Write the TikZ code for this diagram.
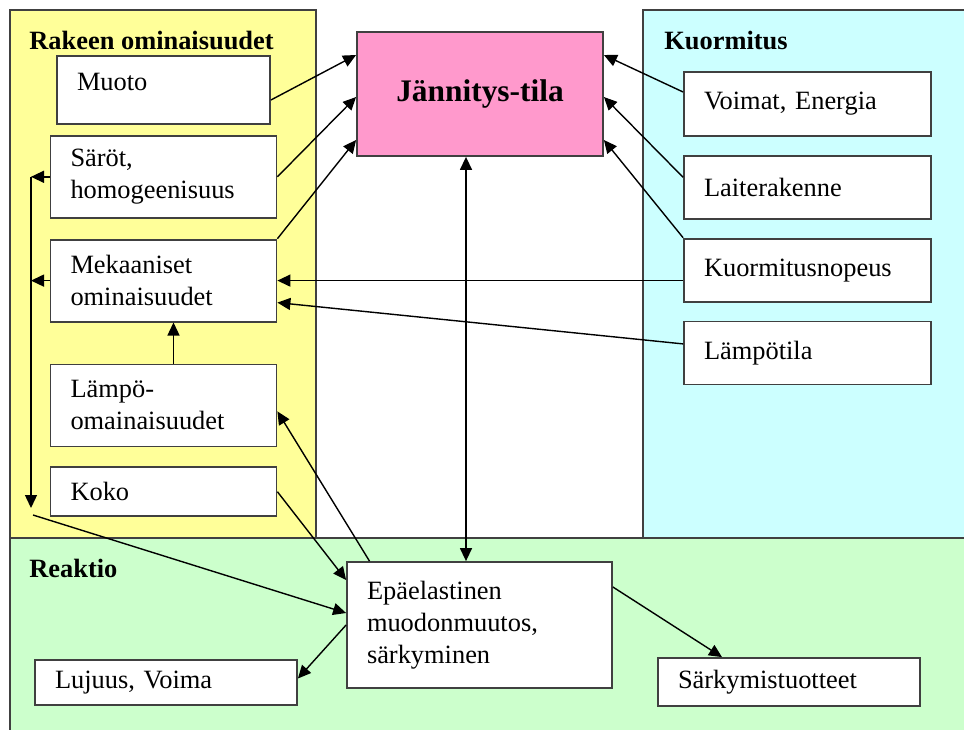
\documentclass[tikz,border=0pt]{standalone}
\usepackage{fontspec}
\setmainfont{Liberation Serif}
\usetikzlibrary{arrows.meta,positioning}

\definecolor{rakeen}{HTML}{FFFF99}
\definecolor{kuorm}{HTML}{CCFFFF}
\definecolor{reakt}{HTML}{CCFFCC}
\definecolor{jannit}{HTML}{FF99CC}

\begin{document}
\begin{tikzpicture}[x=0.5pt,y=-0.5pt,font=\fontsize{13.2}{16}\selectfont,
  panel/.style={draw=black!75,line width=0.8pt},
  box/.style={draw=black!75,line width=0.9pt,fill=white,align=left,
              inner xsep=10pt,inner ysep=2pt},
  title/.style={font=\fontsize{13.2}{16}\selectfont\bfseries,anchor=west,inner sep=0pt},
  arr/.style={line width=0.7pt,-{Triangle[length=6.5pt,width=6pt]}},
  arrb/.style={line width=0.7pt,{Triangle[length=6.5pt,width=6pt]}-{Triangle[length=6.5pt,width=6pt]}}]
\useasboundingbox (0,0) rectangle (964,729);
% taustat
\fill[white] (0,0) rectangle (964,729);
\draw[panel,fill=rakeen] (10,10) rectangle (316,538);
\draw[panel,fill=kuorm] (643,10) rectangle (980,538);
\draw[panel,fill=reakt] (10,538) rectangle (980,745);
\node[title] (trak) at (29,40) {Rakeen ominaisuudet};
\node[title] (tkuo) at (664,40) {Kuormitus};
\node[title] (trea) at (29,568) {Reaktio};

% rakeen ominaisuudet
\node[box,text width=86.5pt,minimum height=34pt] (muoto) at (163.5,90) {Muoto\\[-13pt]\strut};
\node[box,text width=93pt,minimum height=41pt,below=5pt of muoto] (saro) {Säröt,\\homogeenisuus};
\node[box,text width=93pt,minimum height=41pt,below=10pt of saro] (meka) {Mekaaniset\\ominaisuudet};
\node[box,text width=93pt,minimum height=41pt,below=20.5pt of meka] (lampo) {Lämpö-\\omainaisuudet};
\node[box,text width=93pt,minimum height=24.5pt,below=9.5pt of lampo] (koko) {Koko};

% jannitys
\node[draw=black!75,line width=0.9pt,fill=jannit,minimum width=123pt,minimum height=62pt,
      font=\fontsize{15.7}{18}\selectfont\bfseries] (jan) at (480,94) {Jännitys-tila};

% kuormitus
\node[box,text width=103.5pt,minimum height=32pt] (voim) at (807.5,104) {Voimat, Energia};
\node[box,text width=103.5pt,minimum height=31.5pt,below=9pt of voim] (laite) {Laiterakenne};
\node[box,text width=103.5pt,minimum height=31.5pt,below=9pt of laite] (nopeus) {Kuormitusnopeus};
\node[box,text width=103.5pt,minimum height=31.5pt,below=9pt of nopeus] (ltila) {Lämpötila};

% reaktio
\node[box,text width=112.5pt,minimum height=63pt] (epa) at (479.5,625) {Epäelastinen\\muodonmuutos,\\särkyminen};
\node[box,text width=111pt,minimum height=22.5pt] (luj) at (166,682.5) {Lujuus, Voima};
\node[box,text width=111pt,minimum height=24pt] (sark) at (789,682) {Särkymistuotteet};

% nuolet jannitykseen
\draw[arr] ([yshift=-5pt]muoto.east) -- ([yshift=19.5pt]jan.west);
\draw[arr] (saro.east) -- ([yshift=-1.5pt]jan.west);
\draw[arr] (meka.north east) -- ([yshift=-23pt]jan.west);
\draw[arr] ([yshift=6pt]voim.west) -- ([yshift=19.5pt]jan.east);
\draw[arr] ([yshift=5pt]laite.west) -- ([yshift=-1.5pt]jan.east);
\draw[arr] (nopeus.north west) -- ([yshift=-23pt]jan.east);
\draw[arrb] ([xshift=-7pt]jan.south) -- ([xshift=-7pt]jan.south |- epa.north);

% kuormitus -> mekaaniset
\draw[arr] (nopeus.west |- meka.east) -- (meka.east);
\draw[arr] ([yshift=4.5pt]ltila.west) -- ([yshift=-11pt]meka.east);
\draw[arr] ([xshift=5pt]lampo.north) -- ([xshift=5pt]meka.south);

% kokoojaviiva vasemmalla
\coordinate (bus) at (31,508);
\coordinate (busout) at (33,515);
\draw[arr] (saro.west) -- (saro.west -| bus);
\draw[arr] (meka.west) -- (meka.west -| bus);
\draw[arr] (saro.west -| bus) -- (bus);
\draw[arr] (busout) -- ([yshift=6pt]epa.west);

% reaktio
\draw[arr] (koko.east) -- ([yshift=22.5pt]epa.west);
\draw[arr] ([xshift=-55pt]epa.north) -- ([yshift=-3pt]lampo.east);
\draw[arr] (epa.west) -- ([yshift=2pt]luj.east);
\draw[arr] ([yshift=19pt]epa.east) -- ([xshift=-33.5pt]sark.north);
\end{tikzpicture}
\end{document}
